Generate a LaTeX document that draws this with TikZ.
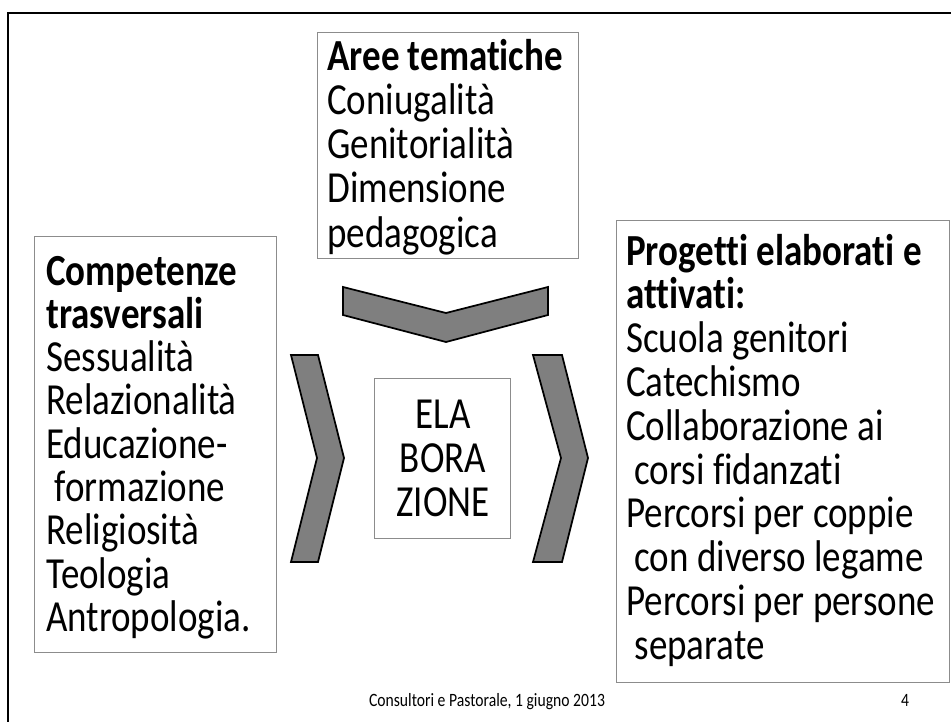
\documentclass[tikz,border=0pt]{standalone}
\usepackage{fontspec}
\usepackage{graphicx}
\setmainfont{Carlito}[Ligatures=NoCommon]
\definecolor{boxgray}{HTML}{8C8C8C}
\definecolor{chevgray}{HTML}{7F7F7F}
\newcommand\myBig{\fontsize{27.75pt}{27.06pt}\selectfont}
\newcommand\myFoot{\fontsize{11.75pt}{14pt}\selectfont}
\newcommand\lead{\hspace*{0.226em}}
\newcommand\stretchtxt[2]{\scalebox{1}[1.2]{\vtop{\myBig\baselineskip=#1\lineskiplimit=-100pt\lineskip=0pt #2}}}
\newcommand\ctrline[1]{\hbox to 0pt{\hss #1\hss}}
\begin{document}
\begin{tikzpicture}[x=0.75pt,y=-0.75pt,
  box/.style={draw=boxgray,line width=0.75pt,inner sep=0pt,anchor=north west},
  chev/.style={draw=black,line width=1.3pt,fill=chevgray,line join=miter},
  txt/.style={inner sep=0pt,anchor=base west},
]
\useasboundingbox (0,0) rectangle (951,722);
% slide frame
\draw[line width=1.8pt] (8,722) -- (8,13) -- (951,13);
% boxes
\node[box,minimum width=195.75pt,minimum height=169.5pt] (topbox) at (317,32) {};
\node[box,minimum width=181.5pt,minimum height=312pt] (leftbox) at (34,236) {};
\node[box,minimum width=249.75pt,minimum height=346.5pt] (rightbox) at (616,220) {};
\node[box,minimum width=102pt,minimum height=120pt] (elabox) at (374,378) {};
% texts
\node[txt] (toptext) at (327,70) {\stretchtxt{27.66pt}{\hbox{\textbf{Aree tematiche}}\hbox{Coniugalità}\hbox{Genitorialità}\hbox{Dimensione}\hbox{pedagogica}}};
\node[txt] (lefttext) at (46,285) {\stretchtxt{27.06pt}{\hbox{\textbf{Competenze}}\hbox{\textbf{trasversali}}\hbox{Sessualità}\hbox{Relazionalità}\hbox{Educazione-}\hbox{\lead formazione}\hbox{Religiosità}\hbox{Teologia}\hbox{Antropologia.}}};
\node[txt] (righttext) at (626,265) {\stretchtxt{27.375pt}{\hbox{\textbf{Progetti elaborati e}}\hbox{\textbf{attivati:}}\hbox{Scuola genitori}\hbox{Catechismo}\hbox{Collaborazione ai}\hbox{\lead corsi fidanzati}\hbox{Percorsi per coppie}\hbox{\lead con diverso legame}\hbox{Percorsi per persone}\hbox{\lead separate}}};
\node[inner sep=0pt,anchor=base] (elatext) at (443,428) {\stretchtxt{27.5pt}{\ctrline{ELA}\ctrline{BORA}\ctrline{ZIONE}}};
% chevrons
\draw[chev] (343,287) -- (446,313) -- (548,287) -- (548,315) -- (446,342) -- (343,315) -- cycle;
\draw[chev] (291,355) -- (318,355) -- (344,458) -- (318,562) -- (291,562) -- (317,458) -- cycle;
\draw[chev] (533,355) -- (562,355) -- (588,458) -- (562,562) -- (533,562) -- (561,458) -- cycle;
% footer
\node[inner sep=0pt,anchor=base,font=\myFoot] (footer) at (487,706) {\scalebox{1}[1.2]{Consultori e Pastorale, 1 giugno 2013}};
\node[inner sep=0pt,anchor=base,font=\myFoot] (pagenum) at (905,706) {\scalebox{1}[1.2]{4}};
\end{tikzpicture}
\end{document}
